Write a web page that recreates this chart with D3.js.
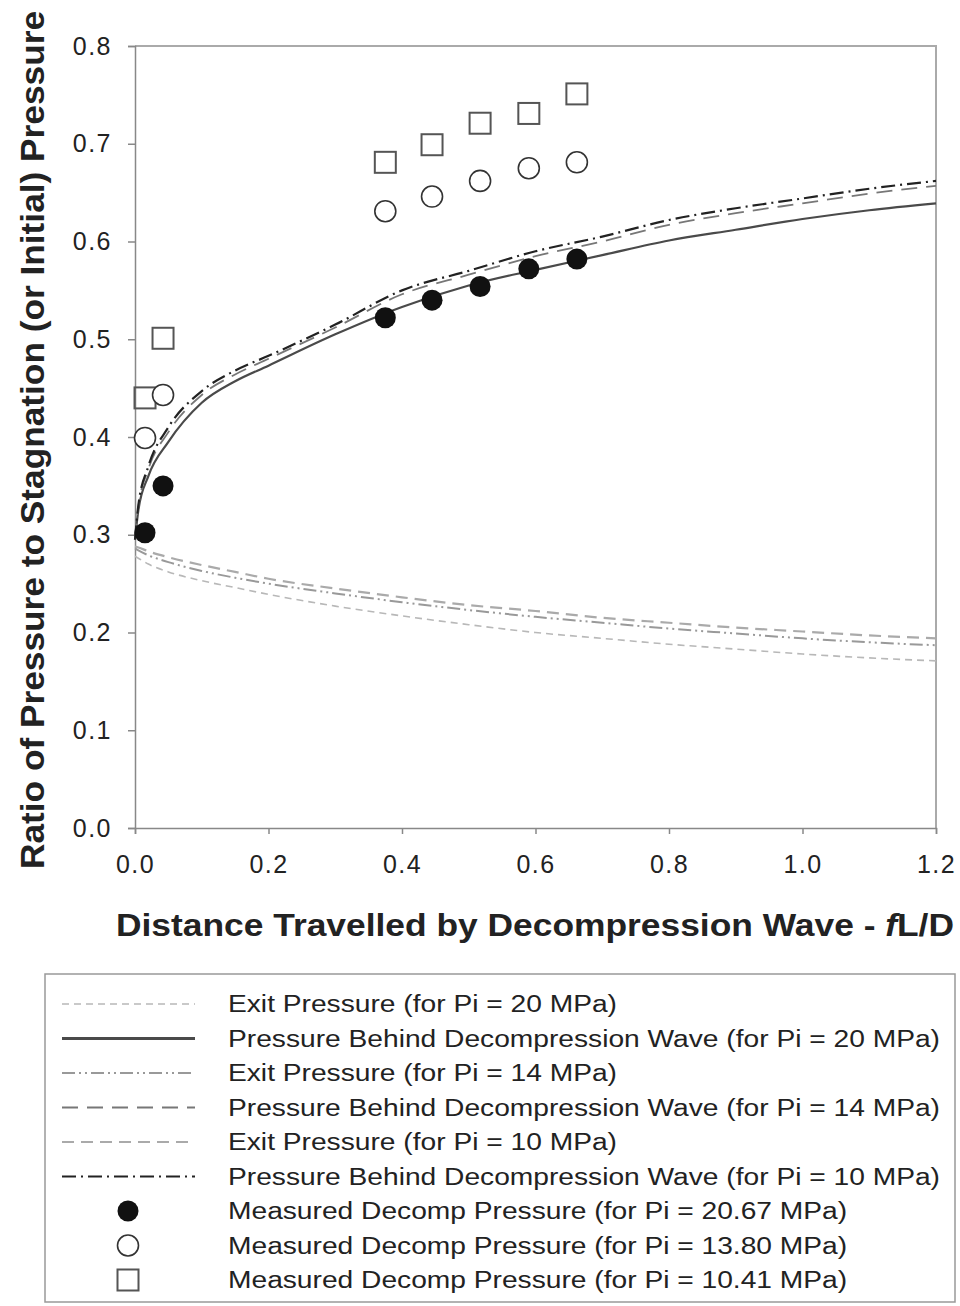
<!DOCTYPE html>
<html lang="en">

<head>
    <meta charset="UTF-8">
    <script src="https://d3js.org/d3.v7.min.js"></script>
    <title>Decompression</title>
    <style>
        body {
            margin: 0;
            background: #fff;
        }
    </style>
</head>

<body>
    <div id="app"></div>
    <script>
        const svg_width = 960;
        const svg_height = 1306;

        // x positions where the model curves were read
        var curve_x = [0, 0.005, 0.02, 0.05, 0.1, 0.15, 0.2, 0.3, 0.4, 0.5, 0.6, 0.7, 0.8, 0.9, 1.0, 1.1, 1.2];

        var exit_20 = [0.278, 0.276, 0.270, 0.262, 0.253, 0.246, 0.239, 0.227, 0.217, 0.208, 0.200, 0.194, 0.188, 0.183, 0.178, 0.174, 0.171];
        var behind_20 = [0.295, 0.325, 0.360, 0.395, 0.435, 0.457, 0.473, 0.505, 0.533, 0.555, 0.571, 0.586, 0.601, 0.612, 0.623, 0.632, 0.639];
        var exit_14 = [0.286, 0.284, 0.279, 0.272, 0.263, 0.256, 0.250, 0.240, 0.231, 0.223, 0.216, 0.210, 0.204, 0.199, 0.194, 0.190, 0.187];
        var behind_14 = [0.295, 0.328, 0.367, 0.405, 0.443, 0.464, 0.480, 0.512, 0.546, 0.566, 0.585, 0.600, 0.617, 0.629, 0.639, 0.649, 0.657];
        var exit_10 = [0.288, 0.287, 0.283, 0.277, 0.269, 0.262, 0.255, 0.245, 0.236, 0.228, 0.222, 0.215, 0.210, 0.205, 0.201, 0.197, 0.194];
        var behind_10 = [0.295, 0.330, 0.370, 0.410, 0.447, 0.468, 0.483, 0.515, 0.550, 0.570, 0.590, 0.605, 0.622, 0.634, 0.644, 0.654, 0.662];

        // measured points
        var meas_x = [0.015, 0.042, 0.375, 0.445, 0.517, 0.590, 0.662];
        var meas_20_67 = [0.302, 0.350, 0.522, 0.540, 0.554, 0.572, 0.582];
        var meas_13_80 = [0.399, 0.443, 0.631, 0.646, 0.662, 0.675, 0.681];
        var meas_10_41 = [0.440, 0.501, 0.681, 0.699, 0.721, 0.731, 0.751];

        var x_ticks = [0, 0.2, 0.4, 0.6, 0.8, 1.0, 1.2];
        var y_ticks = [0, 0.1, 0.2, 0.3, 0.4, 0.5, 0.6, 0.7, 0.8];

        var curve_names = [
            'Exit Pressure (for Pi = 20 MPa)',
            'Pressure Behind Decompression Wave (for Pi = 20 MPa)',
            'Exit Pressure (for Pi = 14 MPa)',
            'Pressure Behind Decompression Wave (for Pi = 14 MPa)',
            'Exit Pressure (for Pi = 10 MPa)',
            'Pressure Behind Decompression Wave (for Pi = 10 MPa)'
        ];
        var point_names = [
            'Measured Decomp Pressure (for Pi = 20.67 MPa)',
            'Measured Decomp Pressure (for Pi = 13.80 MPa)',
            'Measured Decomp Pressure (for Pi = 10.41 MPa)'
        ];

        var curve_styles = [
            { values: exit_20, stroke: '#b8b8b8', width: 1.6, dash: '7,5' },
            { values: behind_20, stroke: '#4a4a4a', width: 2.2, dash: null },
            { values: exit_14, stroke: '#999', width: 2, dash: '13,4,2,4,2,4' },
            { values: behind_14, stroke: '#777', width: 1.8, dash: '16,9' },
            { values: exit_10, stroke: '#aaa', width: 2.2, dash: '12,7' },
            { values: behind_10, stroke: '#222', width: 2.2, dash: '14,5,2,5' }
        ];

        var svg = d3.select('#app')
            .append('svg')
            .attr('width', svg_width)
            .attr('height', svg_height)
            .style('font-family', 'Liberation Sans, Arial, sans-serif');

        var x_scale = d3.scaleLinear().domain([0, 1.2]).range([135, 936]);
        var y_scale = d3.scaleLinear().domain([0, 0.8]).range([828, 46]);

        // frame top / right
        svg.append('path')
            .attr('d', 'M' + x_scale(0) + ',' + y_scale(0.8) + 'H' + x_scale(1.2) + 'V' + y_scale(0))
            .attr('fill', 'none')
            .attr('stroke', '#aaa')
            .attr('stroke-width', 2);

        var x_axis = d3.axisBottom(x_scale).tickValues(x_ticks).tickFormat(d3.format('.1f')).tickSize(6).tickPadding(21);
        var gx = svg.append('g')
            .attr('transform', 'translate(0,' + y_scale(0) + ')')
            .call(x_axis);

        var y_axis = d3.axisLeft(y_scale).tickValues(y_ticks).tickFormat(d3.format('.1f')).tickSize(7).tickPadding(16);
        var gy = svg.append('g')
            .attr('transform', 'translate(' + x_scale(0) + ',0)')
            .call(y_axis);

        svg.selectAll('.domain').attr('stroke', '#888').attr('stroke-width', 1.5);
        svg.selectAll('.tick line').attr('stroke', '#888').attr('stroke-width', 1.5);
        svg.selectAll('.tick text')
            .attr('fill', '#222')
            .style('font-size', '25px')
            .style('letter-spacing', '1.5px')
            .style('font-family', 'Liberation Sans, Arial, sans-serif');
        gx.selectAll('.tick text').attr('dy', '0.71em');

        // axis titles
        var xt = svg.append('text')
            .attr('x', 535)
            .attr('y', 936)
            .attr('text-anchor', 'middle')
            .attr('textLength', 838)
            .attr('lengthAdjust', 'spacingAndGlyphs')
            .style('font-size', '32px')
            .style('font-weight', 'bold')
            .attr('fill', '#222');
        xt.append('tspan').text('Distance Travelled by Decompression Wave - ');
        xt.append('tspan').style('font-style', 'italic').text('f');
        xt.append('tspan').text('L/D');

        svg.append('text')
            .attr('transform', 'translate(44,440) rotate(-90)')
            .attr('text-anchor', 'middle')
            .attr('textLength', 858)
            .attr('lengthAdjust', 'spacingAndGlyphs')
            .style('font-family', 'Liberation Sans Narrow, Arial Narrow, Liberation Sans, sans-serif')
            .style('font-size', '34px')
            .style('font-weight', 'bold')
            .attr('fill', '#222')
            .text('Ratio of Pressure to Stagnation (or Initial) Pressure');

        // curves
        var line = d3.line()
            .x(function (d) { return x_scale(d[0]); })
            .y(function (d) { return y_scale(d[1]); })
            .curve(d3.curveMonotoneX);

        svg.append('g')
            .selectAll('path')
            .data(curve_styles)
            .enter()
            .append('path')
            .attr('d', function (s) {
                return line(curve_x.map(function (x, i) { return [x, s.values[i]]; }));
            })
            .attr('fill', 'none')
            .attr('stroke', function (s) { return s.stroke; })
            .attr('stroke-width', function (s) { return s.width; })
            .attr('stroke-dasharray', function (s) { return s.dash; });

        // markers
        function drawMarker(g, kind, cx, cy) {
            if (kind === 0) {
                g.append('circle').attr('cx', cx).attr('cy', cy).attr('r', 10.5)
                    .attr('fill', '#111');
            } else if (kind === 1) {
                g.append('circle').attr('cx', cx).attr('cy', cy).attr('r', 10.5)
                    .attr('fill', '#fff').attr('stroke', '#333').attr('stroke-width', 1.6);
            } else {
                g.append('rect').attr('x', cx - 10.5).attr('y', cy - 10.5)
                    .attr('width', 21).attr('height', 21)
                    .attr('fill', 'none').attr('stroke', '#555').attr('stroke-width', 2);
            }
        }

        var points_g = svg.append('g');
        [meas_10_41, meas_13_80, meas_20_67].forEach(function (vals, k) {
            var kind = 2 - k;
            vals.forEach(function (v, i) {
                drawMarker(points_g, kind, x_scale(meas_x[i]), y_scale(v));
            });
        });

        // legend
        var legend = svg.append('g');
        legend.append('rect')
            .attr('x', 45)
            .attr('y', 974)
            .attr('width', 910)
            .attr('height', 328)
            .attr('fill', '#fff')
            .attr('stroke', '#999')
            .attr('stroke-width', 1.5);

        var row_y = function (i) { return 1004 + i * 34.5; };
        var legend_texts = [];

        curve_styles.forEach(function (s, i) {
            legend.append('line')
                .attr('x1', 62).attr('x2', 195)
                .attr('y1', row_y(i)).attr('y2', row_y(i))
                .attr('stroke', s.stroke)
                .attr('stroke-width', i === 1 ? 3 : s.width)
                .attr('stroke-dasharray', s.dash);
            legend_texts.push(legend.append('text')
                .attr('x', 228)
                .attr('y', row_y(i))
                .text(curve_names[i]));
        });

        point_names.forEach(function (name, k) {
            var i = 6 + k;
            drawMarker(legend, k, 128, row_y(i));
            legend_texts.push(legend.append('text')
                .attr('x', 228)
                .attr('y', row_y(i))
                .text(name));
        });

        // the scanned legend text is wider than the font: stretch it evenly
        legend_texts.forEach(function (t) {
            t.attr('dy', '0.36em')
                .style('font-size', '23px')
                .attr('fill', '#222');
        });
        var longest = legend_texts[1].node().getComputedTextLength();
        var stretch = 712 / longest;
        legend_texts.forEach(function (t) {
            var w = t.node().getComputedTextLength();
            t.attr('textLength', w * stretch).attr('lengthAdjust', 'spacingAndGlyphs');
        });
    </script>
</body>

</html>
